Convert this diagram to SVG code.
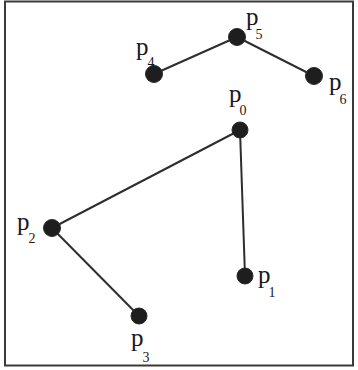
<svg xmlns="http://www.w3.org/2000/svg" width="358" height="370" viewBox="0 0 358 370">
<style>
.frame{fill:#fff;stroke:#3a3a3a;stroke-width:2}
.edge{stroke:#2e2e2e;stroke-width:2;fill:none}
.pt{fill:#1e1e1e;stroke:#2a2a2a;stroke-width:1}
.lbl{font-family:"Liberation Serif","Times New Roman",serif;font-size:25px;fill:#1a1a1a}
.lbl tspan{font-size:14px}
</style>
<rect class="frame" x="5" y="1.5" width="348" height="364"/>
<g id="connectors">
<line class="edge" x1="154" y1="74" x2="237" y2="37"/>
<line class="edge" x1="237" y1="37" x2="314" y2="76"/>
<line class="edge" x1="240" y1="130" x2="52" y2="228"/>
<line class="edge" x1="240" y1="130" x2="245" y2="276"/>
<line class="edge" x1="52" y1="228" x2="139" y2="316"/>
</g>
<g id="p0"><circle class="pt" cx="240" cy="130" r="8"/><text class="lbl" x="229" y="102">p<tspan dx="-2" dy="13">0</tspan></text></g>
<g id="p1"><circle class="pt" cx="245" cy="276" r="8"/><text class="lbl" x="258" y="283">p<tspan dx="-2" dy="14">1</tspan></text></g>
<g id="p2"><circle class="pt" cx="52" cy="228" r="8.5"/><text class="lbl" x="17" y="230">p<tspan dx="-1" dy="13">2</tspan></text></g>
<g id="p3"><circle class="pt" cx="139" cy="316" r="8"/><text class="lbl" x="131" y="346">p<tspan dx="-1" dy="16">3</tspan></text></g>
<g id="p4"><circle class="pt" cx="154" cy="74" r="8.5"/><text class="lbl" x="136" y="55">p<tspan dx="-1" dy="12">4</tspan></text></g>
<g id="p5"><circle class="pt" cx="237" cy="37" r="8.5"/><text class="lbl" x="246" y="25">p<tspan dx="-3" dy="14">5</tspan></text></g>
<g id="p6"><circle class="pt" cx="314" cy="76" r="8.5"/><text class="lbl" x="329" y="90">p<tspan dx="-2" dy="14">6</tspan></text></g>
</svg>
